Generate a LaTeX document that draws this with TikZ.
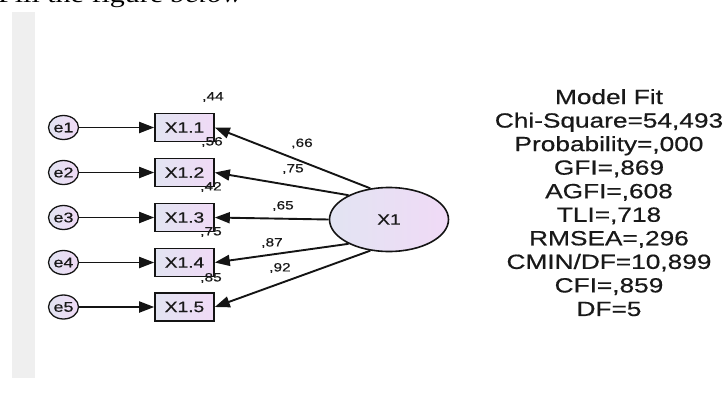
\documentclass[tikz,border=0pt]{standalone}
\usepackage{fontspec}
\setmainfont{Liberation Sans}
\newfontfamily\amos[FakeStretch=1.28,FakeBold=0.6]{Liberation Sans}
\newfontfamily\topfont[FakeStretch=1.25]{Liberation Serif}
\usetikzlibrary{arrows.meta,shapes.geometric}
\definecolor{lnc}{RGB}{20,20,20}
\definecolor{txc}{RGB}{25,25,25}
\definecolor{fillL}{RGB}{226,228,242}
\definecolor{fillR}{RGB}{240,218,246}
\definecolor{barc}{RGB}{239,239,239}
\tikzset{
  errnode/.style={ellipse, draw=lnc, line width=1.3pt, minimum width=30pt, minimum height=24pt, inner sep=0pt, left color=fillL, right color=fillR, font=\amos\fontsize{14}{14}\selectfont, text=txc},
  obsbox/.style={rectangle, draw=lnc, line width=1.6pt, minimum width=59pt, minimum height=28pt, inner sep=0pt, left color=fillL, right color=fillR, font=\amos\fontsize{15}{15}\selectfont, text=txc},
  latent/.style={ellipse, draw=lnc, line width=1.6pt, minimum width=119pt, minimum height=64pt, inner sep=0pt, left color=fillL, right color=fillR, font=\amos\fontsize{15}{15}\selectfont, text=txc},
  conn/.style={draw=lnc, line width=1.9pt, -{Triangle[length=15pt,width=11pt]}},
  smalllab/.style={font=\amos\fontsize{12}{12}\selectfont, text=txc, inner sep=0pt},
  fitline/.style={font=\amos\fontsize{20.5}{20.5}\selectfont, text=txc, inner sep=0pt, anchor=base}
}
\begin{document}
\begin{tikzpicture}[x=1pt,y=-1pt]
\useasboundingbox (0,0) rectangle (723,405);
\fill[barc] (12,12) rectangle (35,378);
\begin{scope}
\clip (0,0) rectangle (723,405);
\node[anchor=base west, inner sep=0pt, text=black] (title) at (-2,2.5) {\topfont\fontsize{24}{24}\selectfont Fill the figure \textit{below}};
\end{scope}
% latent
\node[latent] (X1) at (389,219.5) {X1};
% observed and errors
\foreach \i/\yy in {1/127.5,2/172.5,3/217.5,4/262.5,5/307}{
  \node[obsbox] (b\i) at (184.5,\yy) {X1.\i};
  \node[errnode] (e\i) at (63.5,\yy) {e\i};
  \draw[conn] (e\i) -- (b\i);
}
% loadings
\draw[conn] (X1.121) -- (b1.east);
\draw[conn] (X1.149) -- (b2.east);
\draw[conn] (X1.180) -- (b3.east);
\draw[conn] (X1.211) -- (b4.east);
\draw[conn] (X1.239) -- (b5.east);
% squared multiple correlations
\node[smalllab] (r1) at (213,97) {,44};
\node[smalllab] (r2) at (212,142) {,56};
\node[smalllab] (r3) at (211,187) {,42};
\node[smalllab] (r4) at (211,232) {,75};
\node[smalllab] (r5) at (211,278) {,85};
% weights
\node[smalllab] (w1) at (302,143.5) {,66};
\node[smalllab] (w2) at (293,169) {,75};
\node[smalllab] (w3) at (283,206) {,65};
\node[smalllab] (w4) at (272,243) {,87};
\node[smalllab] (w5) at (280,268) {,92};
% model fit
\begin{scope}
\clip (0,0) rectangle (723,405);
\foreach \t [count=\k] in {Model Fit,Chi-Square=54{,}493,Probability={,}000,GFI={,}869,AGFI={,}608,TLI={,}718,RMSEA={,}296,CMIN/DF=10{,}899,CFI={,}859,DF=5}{
  \node[fitline] (m\k) at (609,{104+(\k-1)*23.55}) {\t};
}
\end{scope}
\end{tikzpicture}
\end{document}
